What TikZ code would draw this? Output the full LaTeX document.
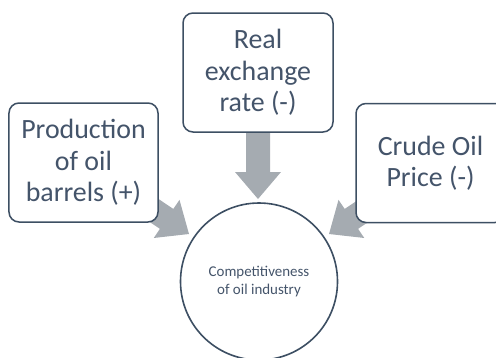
\documentclass[tikz,border=0pt]{standalone}
\usepackage{fontspec}
\setmainfont{Carlito}
\definecolor{txt}{HTML}{44546A}
\definecolor{bord}{HTML}{3D4F63}
\definecolor{arr}{HTML}{A5ABB1}
\newcommand\blockarrow[3]{%
  \fill[arr, shift={(#1)}, rotate=#2] (0,0) -- (-27,-23) -- (-27,-12) -- (-#3,-12) -- (-#3,12) -- (-27,12) -- (-27,23) -- cycle;}
\begin{document}
\begin{tikzpicture}[x=1bp,y=-1bp,
  box/.style={draw=bord, line width=1.5bp, fill=white, rounded corners=10bp,
    minimum width=149bp, minimum height=119bp, align=center, text=txt,
    font=\fontsize{28}{31.5}\selectfont, inner sep=0pt},
  hub/.style={circle, draw=bord, line width=1.6bp, fill=white, minimum size=157bp,
    align=center, text=txt, font=\fontsize{15}{17.5}\selectfont, inner sep=0pt}]
\useasboundingbox (0,0) rectangle (496,357);
\clip (0,0) rectangle (496,357);
\coordinate (tipT) at (258,199);
\coordinate (tipL) at (189,234);
\coordinate (tipR) at (329,234);
\blockarrow{tipT}{-90}{100}
\blockarrow{tipL}{-34}{128}
\blockarrow{tipR}{-146}{128}
\node[box] (prod) at (83.5,162.5) {Production\\of oil\\barrels (+)};
\node[box, minimum width=150bp] (rate) at (258,72.5) {Real\\exchange\\rate (-)};
\node[box] (crude) at (430.5,163) {Crude Oil\\Price (-)};
\node[hub] (comp) at (259,281.5) {Competitiveness\\of oil industry};
\end{tikzpicture}
\end{document}
